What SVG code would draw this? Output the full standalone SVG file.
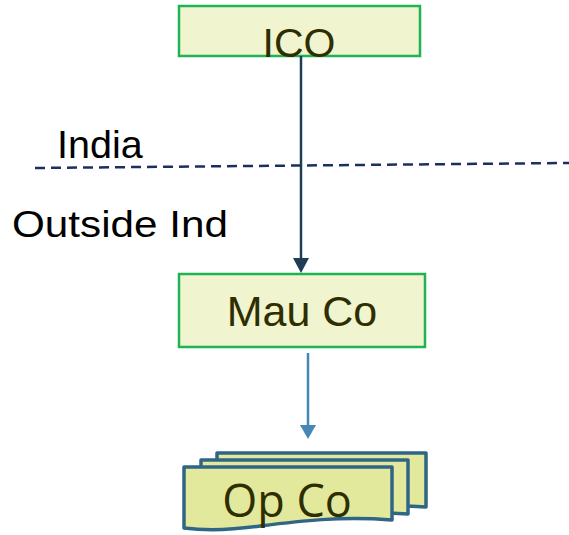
<svg xmlns="http://www.w3.org/2000/svg" width="569" height="535" viewBox="0 0 569 535">
<style>
.box{fill:#f0f4cf;stroke:#1fb355;stroke-width:2.5}
.lbl{font-family:"Liberation Sans",Arial,sans-serif;fill:#2e2e00}
.plain{font-family:"Liberation Sans",Arial,sans-serif;fill:#000}
.doc{fill:#e2e99d;stroke:#2f6585;stroke-width:3.5;stroke-linejoin:round}
</style>
<rect width="569" height="535" fill="#fff"/>
<g id="divider">
<line x1="35" y1="168" x2="569" y2="163" stroke="#1c2e62" stroke-width="2.5" stroke-dasharray="10,6"/>
<text class="plain" x="57" y="158" font-size="39.5">India</text>
<text class="plain" x="12" y="237" font-size="37" textLength="216" lengthAdjust="spacingAndGlyphs">Outside Ind</text>
</g>
<g id="ico">
<rect class="box" x="179" y="6" width="241" height="50"/>
<text class="lbl" x="299" y="57" font-size="41" text-anchor="middle">ICO</text>
</g>
<g id="mauco">
<rect class="box" x="179" y="274" width="246" height="73"/>
<text class="lbl" x="302" y="326" font-size="43" text-anchor="middle">Mau Co</text>
</g>
<g id="opco">
<path class="doc" d="M217,453 H426 V507 C380,504 350,509 320,512 L217,512 Z"/>
<path class="doc" d="M201,460 H408 V514 C360,511 330,516 300,519 L201,519 Z"/>
<path class="doc" d="M184,467 H392 V520 C340,516 300,521 260,526 C225,531 200,530 184,528 Z"/>
<text x="287" y="517" font-size="45" text-anchor="middle" font-family="'Open Sans','Noto Sans',sans-serif" fill="#2e2e00">Op Co</text>
</g>
<g id="connectors">
<line x1="301" y1="56" x2="301" y2="260" stroke="#1f3d57" stroke-width="2.5"/>
<path d="M293,258 L309,258 L301,273 Z" fill="#1f3d57"/>
<line x1="308" y1="353" x2="308" y2="427" stroke="#4588b5" stroke-width="2.5"/>
<path d="M300,425 L316,425 L308,439 Z" fill="#4588b5"/>
</g>
</svg>
